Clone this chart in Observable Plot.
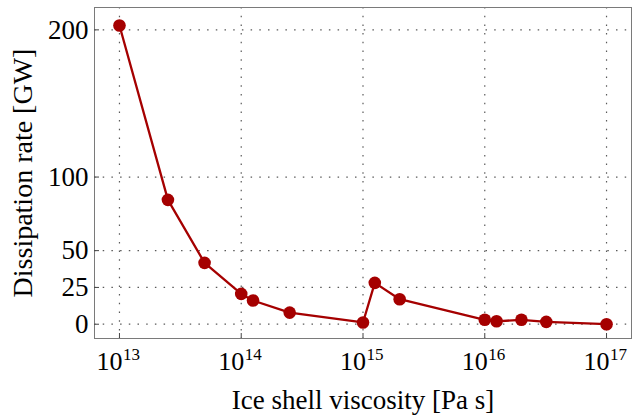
<!DOCTYPE html>
<html>
<head>
<meta charset="utf-8">
<script src="https://cdn.jsdelivr.net/npm/d3@7"></script>
<script src="https://cdn.jsdelivr.net/npm/@observablehq/plot@0.6"></script>
<style>
  html, body { margin: 0; padding: 0; background: #fff; }
  #chart svg { display: block; }
</style>
</head>
<body>
<div id="chart"></div>
<script>
// Ice shell viscosity (Pa s) against tidal dissipation rate (GW)
const viscosity = [1e13, 2.5e13, 5e13, 1e14, 1.25e14, 2.5e14, 1e15, 1.25e15, 2e15, 1e16, 1.25e16, 2e16, 3.2e16, 1e17];
const dissipation = [203, 84.5, 41.7, 20.6, 16.1, 7.9, 1.2, 28.1, 17, 3, 2, 3, 1.6, 0];

const xTickExponents = [13, 14, 15, 16, 17];
const yTicks = [0, 25, 50, 100, 200];
const xLabel = "Ice shell viscosity [Pa s]";
const yLabel = "Dissipation rate [GW]";

const rows = viscosity.map((v, i) => ({viscosity: v, dissipation: dissipation[i]}));
const xTicks = xTickExponents.map(e => 10 ** e);

const serif = "Liberation Serif, Times New Roman, serif";
const red = "#a50000";
const gridStyle = {stroke: "#5a5a5a", strokeOpacity: 1, strokeWidth: 1.2, strokeDasharray: "1.5,7.2"};

const chart = Plot.plot({
  width: 632,
  height: 416,
  marginLeft: 94,
  marginRight: 1,
  marginTop: 7,
  marginBottom: 78,
  style: {fontFamily: serif, background: "#fff"},
  x: {type: "log", domain: [10 ** 12.795, 10 ** 17.205]},
  y: {domain: [-9.7, 215.2]},
  marks: [
    Plot.gridX(xTicks, gridStyle),
    Plot.gridY(yTicks, gridStyle),
    Plot.frame({stroke: "#7a7a7a", strokeWidth: 1}),
    // inward tick marks
    Plot.axisX(xTicks, {anchor: "bottom", tickSize: -5, tickFormat: () => "", stroke: "#444", label: null}),
    Plot.axisY(yTicks, {anchor: "left", tickSize: -5, tickFormat: () => "", stroke: "#444", label: null}),
    // y tick labels
    Plot.text(yTicks, {
      y: d => d, text: d => String(d), frameAnchor: "left", textAnchor: "end",
      dx: -6, fontSize: 27, fill: "#000", fontFamily: serif
    }),
    // x tick labels: base "10" plus raised exponent
    Plot.text(xTickExponents, {
      x: e => 10 ** e, text: () => "10", frameAnchor: "bottom", lineAnchor: "bottom",
      textAnchor: "end", dx: 3, dy: 31, fontSize: 26, fill: "#000", fontFamily: serif
    }),
    Plot.text(xTickExponents, {
      x: e => 10 ** e, text: e => String(e), frameAnchor: "bottom", lineAnchor: "bottom",
      textAnchor: "start", dx: 3.5, dy: 21, fontSize: 17, fill: "#000", fontFamily: serif
    }),
    // axis titles
    Plot.text([xLabel], {
      text: d => d, frameAnchor: "bottom", lineAnchor: "bottom", textAnchor: "middle",
      dy: 70, fontSize: 27, fill: "#000", fontFamily: serif
    }),
    Plot.text([yLabel], {
      text: d => d, frameAnchor: "left", lineAnchor: "bottom", textAnchor: "middle", rotate: -90,
      dx: -63, fontSize: 28, fill: "#000", fontFamily: serif
    }),
    // series
    Plot.line(rows, {x: "viscosity", y: "dissipation", stroke: red, strokeWidth: 2.3}),
    Plot.dot(rows, {x: "viscosity", y: "dissipation", r: 6.3, fill: red, stroke: "none"})
  ]
});

document.getElementById("chart").appendChild(chart);
</script>
</body>
</html>
